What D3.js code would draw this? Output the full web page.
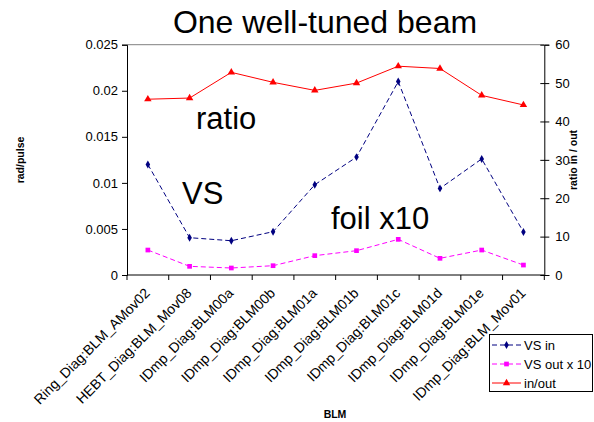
<!DOCTYPE html>
<html><head><meta charset="utf-8">
<script src="https://cdn.jsdelivr.net/npm/d3@7"></script>
<style>body{margin:0;background:#fff;}svg{display:block;font-family:"Liberation Sans",Arial,sans-serif;}</style>
</head><body>
<svg id="chart" width="594" height="422"></svg>
<script>
const categories = ["Ring_Diag:BLM_AMov02","HEBT_Diag:BLM_Mov08","IDmp_Diag:BLM00a","IDmp_Diag:BLM00b","IDmp_Diag:BLM01a","IDmp_Diag:BLM01b","IDmp_Diag:BLM01c","IDmp_Diag:BLM01d","IDmp_Diag:BLM01e","IDmp_Diag:BLM_Mov01"];
const vsIn = [0.0120,0.00405,0.00372,0.0047,0.0098,0.0128,0.0210,0.0094,0.0126,0.00467];
const vsOut10 = [0.00271,0.00094,0.00076,0.00101,0.0021,0.00264,0.00387,0.00181,0.00271,0.00108];
const ratio = [45.8,46.1,52.8,50.2,48.1,50.0,54.4,53.8,46.8,44.3];
const leftTicks = [0,0.005,0.01,0.015,0.02,0.025];
const leftTickLabels = ["0","0.005","0.01","0.015","0.02","0.025"];
const rightTicks = [0,10,20,30,40,50,60];
const seriesNames = ["VS in","VS out x 10","in/out"];

const svg = d3.select("#chart");
const m = {l:127, r:544.3, t:44.7, b:275};
const x = d3.scaleBand().domain(categories).range([m.l, m.r]);
const yL = d3.scaleLinear().domain([0,0.025]).range([m.b, m.t]);
const yR = d3.scaleLinear().domain([0,60]).range([m.b, m.t]);
const cx = d => x(d) + x.bandwidth()/2;

// plot border top
svg.append("line").attr("x1",m.l).attr("x2",m.r).attr("y1",m.t).attr("y2",m.t).attr("stroke","#808080").attr("stroke-width",1);

// left axis
const gL = svg.append("g").attr("transform",`translate(${m.l},0)`)
  .call(d3.axisLeft(yL).tickValues(leftTicks).tickFormat((d,i)=>leftTickLabels[i]).tickSize(5).tickPadding(4));
// right axis
const gR = svg.append("g").attr("transform",`translate(${m.r},0)`)
  .call(d3.axisRight(yR).tickValues(rightTicks).tickSize(5).tickPadding(6));
gR.selectAll(".tick line").attr("x1",-4);
// bottom axis
const boundaries = d3.range(categories.length+1).map(i => m.l + i*x.bandwidth());
const gB = svg.append("g").attr("transform",`translate(0,${m.b})`);
gB.append("line").attr("x1",m.l).attr("x2",m.r).attr("stroke","#000");
gB.selectAll("line.tk").data(boundaries).join("line").attr("class","tk")
  .attr("x1",d=>d).attr("x2",d=>d).attr("y1",0).attr("y2",5).attr("stroke","#000");
gB.selectAll("text").data(categories).join("text")
  .attr("transform",d=>`translate(${cx(d)+3},${19}) rotate(-45)`)
  .attr("text-anchor","end").attr("font-size",14).attr("fill","#000").text(d=>d);

[gL,gR].forEach(g=>{
  g.select(".domain").attr("stroke","#000");
  g.selectAll(".tick line").attr("stroke","#000");
  g.selectAll(".tick text").attr("font-size",13).attr("fill","#000").attr("font-family","Liberation Sans, Arial, sans-serif");
});

// axis titles
svg.append("text").attr("transform","translate(24,160) rotate(-90)").attr("text-anchor","middle")
  .attr("font-size",10.5).attr("font-weight","bold").text("rad/pulse");
svg.append("text").attr("transform","translate(577,160) rotate(-90)").attr("text-anchor","middle")
  .attr("font-size",10.5).attr("font-weight","bold").text("ratio in / out");
svg.append("text").attr("x",335).attr("y",418).attr("text-anchor","middle")
  .attr("font-size",10.5).attr("font-weight","bold").text("BLM");

// title
svg.append("text").attr("x",325).attr("y",33).attr("text-anchor","middle").attr("font-size",32).text("One well-tuned beam");

// series
const lineL = d3.line().x((d,i)=>cx(categories[i])).y(d=>yL(d));
const lineR = d3.line().x((d,i)=>cx(categories[i])).y(d=>yR(d));
const sym = {
  diamond: d3.symbol().type(d3.symbolDiamond).size(18),
  square: d3.symbol().type(d3.symbolSquare).size(22),
  triangle: d3.symbol().type(d3.symbolTriangle).size(24)
};
function drawSeries(data, line, yS, color, dash, shape){
  svg.append("path").attr("d",line(data)).attr("fill","none").attr("stroke",color).attr("stroke-width",1)
    .attr("stroke-dasharray",dash);
  svg.selectAll(null).data(data).join("path")
    .attr("transform",(d,i)=>`translate(${cx(categories[i])},${yS(d)})`)
    .attr("d",sym[shape]).attr("fill",color);
}
drawSeries(vsOut10, lineL, yL, "#FF00FF", "5,3", "square");
drawSeries(vsIn, lineL, yL, "#000080", "5,3", "diamond");
drawSeries(ratio, lineR, yR, "#FF0000", null, "triangle");

// annotations
svg.append("text").attr("x",196).attr("y",129).attr("font-size",31).text("ratio");
svg.append("text").attr("x",182).attr("y",204).attr("font-size",31).text("VS");
svg.append("text").attr("x",331).attr("y",229).attr("font-size",31).text("foil x10");

// legend
const lg = svg.append("g");
lg.append("rect").attr("x",489.5).attr("y",334.5).attr("width",103).attr("height",57).attr("fill","#fff").attr("stroke","#000");
const lgItems = [
  {name:seriesNames[0], color:"#000080", dash:"5,3", shape:"diamond"},
  {name:seriesNames[1], color:"#FF00FF", dash:"5,3", shape:"square"},
  {name:seriesNames[2], color:"#FF0000", dash:null, shape:"triangle"}
];
lgItems.forEach((it,i)=>{
  const yy = 345 + i*19;
  lg.append("line").attr("x1",492).attr("x2",521).attr("y1",yy).attr("y2",yy).attr("stroke",it.color).attr("stroke-dasharray",it.dash);
  lg.append("path").attr("transform",`translate(506.5,${yy})`).attr("d",sym[it.shape]).attr("fill",it.color);
  lg.append("text").attr("x",524).attr("y",yy+4.5).attr("font-size",13).text(it.name);
});
</script>
</body></html>
